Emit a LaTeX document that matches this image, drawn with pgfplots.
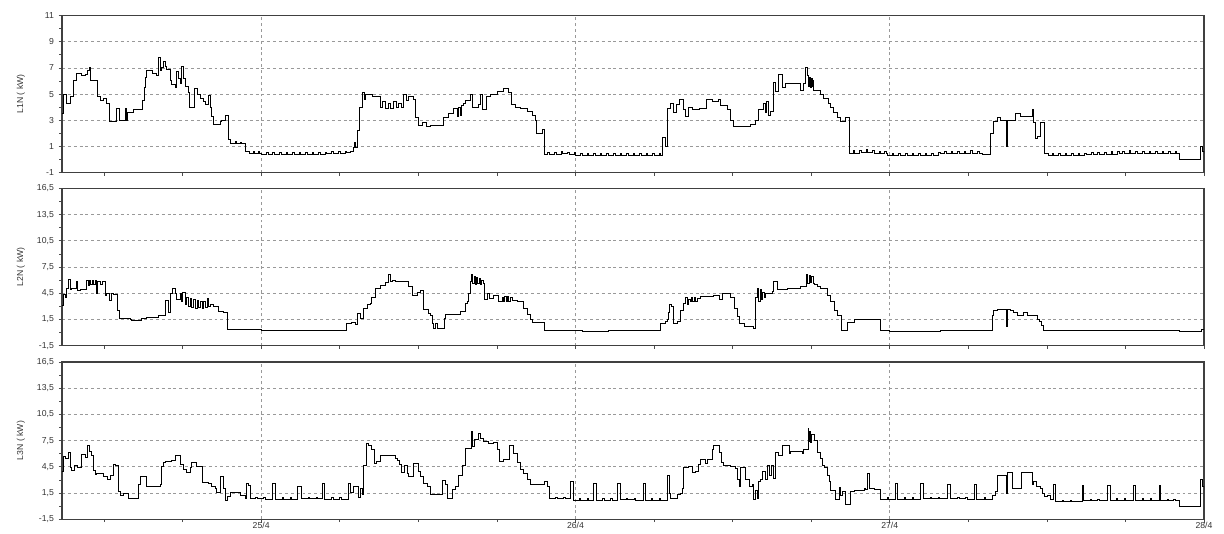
\documentclass[border=0pt]{standalone}
\usepackage{fontspec}
\setmainfont{Liberation Sans}
\usepackage{pgfplots}
\pgfplotsset{compat=1.18}

% time axis: hours from 25/4 00:00
\pgfplotsset{
  panel/.style={
    scale only axis, width=856.5pt, height=118pt,
    xmin=-15.21, xmax=72,
    xtick={0,24,48,72},
    minor xtick={-12,-6,6,12,18,30,36,42,54,60,66},
    xticklabels={},
    tick align=outside, tick pos=left,
    major tick length=2.6pt, minor tick length=2.2pt,
    xmajorgrids, ymajorgrids,
    major grid style={dash pattern=on 2.2pt off 2.2pt, black!40, line width=0.5pt},
    axis line style={black!75, line width=0.9pt},
    every tick/.style={black!70, line width=0.5pt},
    minor y tick num=1,
    /pgf/number format/assume math mode=true,
    tick label style={font=\fontsize{6.5}{7}\selectfont, text=black!80},
    xticklabel style={yshift=3.8pt},
    label style={font=\fontsize{6.5}{7}\selectfont, text=black!80},
    ylabel style={at={(axis description cs:-0.036,0.5)}, anchor=center},
  },
  kwpanel/.style={
    ymin=-1.5, ymax=16.5, ytick={-1.5,1.5,4.5,7.5,10.5,13.5,16.5},
    yticklabel={\pgfmathprintnumber[fixed,fixed zerofill,precision=1,use comma,assume math mode=true]{\tick}},
  },
  trace/.style={const plot, no marks, black, line width=0.7pt},
}

\begin{document}
\begin{tikzpicture}
\path[use as bounding box] (0,0) rectangle (918pt,399.75pt);

% ---------------- L1N ----------------
\begin{axis}[panel, at={(46.5pt,270.2pt)}, anchor=south west,
  ymin=-1, ymax=11, ytick={-1,1,3,5,7,9,11},
  ylabel={L1N ( kW)}]
\addplot[trace] coordinates {
(-15.23,3.5) (-15.11,5.0) (-14.85,4.3) (-14.54,4.8) (-14.35,6.0) (-14.14,6.6) (-13.7,6.4) (-13.45,6.5) (-13.28,6.8) (-13.1,7.0)
(-13.02,6.0) (-12.51,4.8) (-12.31,4.5) (-12.05,4.7) (-11.79,4.3) (-11.59,2.9) (-11.03,3.9) (-10.83,3.0) (-10.39,3.9) (-10.26,3.0)
(-10.22,3.6) (-9.76,3.8) (-9.04,4.5) (-8.94,5.5) (-8.84,6.3) (-8.74,6.8) (-8.3,6.6) (-7.97,6.4) (-7.82,7.8) (-7.72,6.8)
(-7.6,7.0) (-7.47,7.5) (-7.3,7.1) (-7.21,6.9) (-6.95,6.0) (-6.83,5.7) (-6.57,5.5) (-6.50,6.7) (-6.32,6.2) (-6.2,5.8)
(-6.11,7.1) (-5.94,6.2) (-5.81,5.6) (-5.56,5.1) (-5.48,4.0) (-5.10,5.4) (-4.84,5.0) (-4.66,4.7) (-4.41,4.4) (-4.28,4.2)
(-4.03,4.9) (-3.90,4.0) (-3.77,3.3) (-3.65,2.7) (-3.13,2.9) (-3.00,3.0) (-2.70,3.4) (-2.50,1.5) (-2.37,1.2) (-2.0,1.35)
(-1.9,1.2) (-1.6,1.3) (-1.5,1.2) (-1.22,0.6) (-0.9,0.5) (-0.6,0.62) (-0.5,0.5) (-0.2,0.6) (-0.1,0.5)
(0.05,0.4) (0.4,0.55) (0.52,0.4) (0.9,0.55) (1.02,0.4) (1.4,0.55) (1.52,0.4) (1.9,0.55) (2.02,0.4) (2.4,0.55) (2.52,0.4)
(2.9,0.55) (3.02,0.4) (3.4,0.55) (3.52,0.4) (3.9,0.55) (4.02,0.4) (4.4,0.55) (4.52,0.4) (4.9,0.55) (5.02,0.45) (5.4,0.6)
(5.52,0.45) (5.9,0.6) (6.02,0.5) (6.4,0.65) (6.52,0.55)
(6.8,0.6) (7.03,0.9) (7.1,1.3) (7.2,0.9) (7.34,2.2) (7.49,4.0) (7.7,5.1) (7.87,4.6) (8.0,5.0) (8.5,4.8)
(9.1,4.0) (9.3,4.4) (9.5,3.9) (9.7,4.3) (9.9,3.9) (10.1,4.4) (10.3,4.0) (10.5,4.3) (10.7,4.0) (10.85,5.0)
(11.08,4.5) (11.23,4.8) (11.62,4.6) (11.77,3.2) (12.0,2.6) (12.3,2.8) (12.6,2.5) (12.9,2.6) (13.91,3.2) (14.29,3.5)
(14.67,3.9) (14.98,3.3) (15.1,4.0) (15.2,3.4) (15.3,4.1) (15.44,4.3) (15.6,4.5) (15.98,5.0) (16.13,4.0) (16.59,4.2)
(16.75,5.0) (16.9,3.8) (17.2,4.8) (17.5,5.0) (18.04,5.2) (18.5,5.4) (18.88,5.1) (19.11,4.2) (19.42,4.0) (19.8,3.9)
(20.33,3.7) (20.71,3.4) (20.94,3.0) (21.02,2.0) (21.48,2.3)
(21.63,0.4) (21.9,0.55) (22.02,0.4) (22.4,0.55) (22.52,0.4) (22.9,0.6) (23.02,0.45) (23.4,0.55) (23.52,0.4) (23.9,0.55)
(24.02,0.3) (24.4,0.45) (24.52,0.3) (24.9,0.45) (25.02,0.3) (25.4,0.45) (25.52,0.3) (25.9,0.45) (26.02,0.3) (26.4,0.45)
(26.52,0.3) (26.9,0.45) (27.02,0.3) (27.4,0.45) (27.52,0.3) (27.9,0.5) (28.02,0.35) (28.4,0.5) (28.52,0.35) (28.9,0.5)
(29.02,0.35) (29.4,0.5) (29.52,0.35) (29.9,0.5) (30.02,0.35) (30.4,0.5) (30.52,0.35)
(30.63,1.7) (30.88,1.0) (31.03,3.9) (31.26,4.3) (31.49,3.6) (31.72,4.2) (31.95,4.6) (32.25,3.8) (32.41,3.3) (32.64,4.0)
(32.94,3.8) (33.5,3.9) (34.02,4.6) (34.5,4.4) (34.93,4.6) (35.08,4.1) (35.62,3.8) (35.85,3.0) (36.08,2.5) (37.38,2.7)
(37.76,3.0) (37.99,3.8) (38.37,4.3) (38.5,3.6) (38.6,4.4) (38.75,3.4) (38.91,3.7) (39.13,5.9) (39.28,5.2) (39.51,6.5)
(39.82,5.5) (40.05,5.8) (41.2,5.3) (41.43,5.8) (41.58,7.0) (41.74,6.4) (41.8,5.6) (41.87,6.3) (41.94,5.5) (42.0,6.2)
(42.07,5.6) (42.14,6.0) (42.2,5.3) (42.73,5.0) (42.96,4.7) (43.34,4.3) (43.5,4.0) (43.72,3.6) (44.03,3.2) (44.26,2.9)
(44.64,3.2)
(44.95,0.5) (45.2,0.7) (45.32,0.5) (45.7,0.7) (45.82,0.55) (46.2,0.75) (46.32,0.55) (46.7,0.7) (46.82,0.5) (47.2,0.65)
(47.32,0.5) (47.6,0.65) (47.72,0.45) (47.85,0.3) (48.2,0.45) (48.32,0.3) (48.7,0.45) (48.82,0.3) (49.2,0.45) (49.32,0.3)
(49.7,0.45) (49.82,0.3) (50.2,0.45) (50.32,0.3) (50.7,0.5) (50.82,0.35) (51.2,0.5) (51.32,0.35) (51.7,0.55) (51.9,0.45)
(52.2,0.65) (52.32,0.45) (52.7,0.65) (52.82,0.45) (53.2,0.65) (53.32,0.45) (53.7,0.65) (53.82,0.45) (54.2,0.7) (54.32,0.45)
(54.7,0.65) (54.82,0.45) (55.1,0.4)
(55.72,2.0) (55.95,2.9) (56.26,3.2) (56.48,3.0) (56.94,1.0) (57.02,3.0) (57.63,3.5) (58.0,3.3) (58.93,3.8) (59.0,2.8)
(59.16,1.6) (59.31,1.8) (59.54,2.8)
(59.85,0.5) (60.1,0.35) (60.4,0.5) (60.52,0.35) (60.9,0.5) (61.02,0.35) (61.4,0.5) (61.52,0.35) (61.9,0.5) (62.02,0.35)
(62.4,0.5) (62.52,0.35) (62.9,0.5) (63.02,0.4) (63.4,0.55) (63.52,0.4) (63.9,0.55) (64.02,0.4) (64.4,0.55) (64.52,0.4)
(64.9,0.6) (65.02,0.4) (65.4,0.6) (65.52,0.45) (65.8,0.65) (65.92,0.5) (66.3,0.7) (66.42,0.5) (66.8,0.65) (66.92,0.5)
(67.3,0.6) (67.42,0.45) (67.8,0.6) (67.92,0.45) (68.3,0.6) (68.42,0.45) (68.8,0.6) (68.92,0.45) (69.3,0.6) (69.42,0.5)
(69.8,0.65) (69.92,0.5) (70.09,0.0) (71.7,1.0) (71.85,0.6) (72,0.4)
};
\end{axis}

% ---------------- L2N ----------------
\begin{axis}[panel, kwpanel, at={(46.5pt,140.5pt)}, anchor=south west,
  ylabel={L2N ( kW)}]
\addplot[trace] coordinates {
(-15.23,3.1) (-15.11,4.4) (-14.98,4.0) (-14.85,5.0) (-14.72,6.1) (-14.6,4.9) (-14.47,5.0) (-14.09,5.9) (-14.0,4.8) (-13.83,4.9)
(-13.37,6.0) (-13.2,5.4) (-13.1,6.0) (-13.0,5.5) (-12.9,6.0) (-12.8,5.5) (-12.69,6.0) (-12.61,4.5) (-12.51,5.8) (-12.31,5.5)
(-12.13,5.9) (-11.92,4.3) (-11.79,4.5) (-11.6,3.7) (-11.46,4.5) (-11.29,4.4) (-10.99,2.5) (-10.83,1.6) (-10.01,1.5) (-9.88,1.4)
(-9.12,1.6) (-8.74,1.7) (-7.85,1.9) (-7.34,3.7) (-7.09,2.3) (-6.9,4.5) (-6.75,5.05) (-6.57,4.5) (-6.44,3.8) (-6.19,4.5)
(-6.06,3.5) (-5.98,4.6) (-5.81,3.2) (-5.68,4.0) (-5.55,3.0) (-5.42,3.9) (-5.29,2.9) (-5.16,3.8) (-5.03,2.8) (-4.9,3.7)
(-4.77,2.9) (-4.64,3.6) (-4.51,2.8) (-4.38,3.6) (-4.25,2.9) (-4.12,3.9) (-3.99,3.0) (-3.86,3.2) (-3.65,3.0) (-3.26,2.4)
(-2.9,2.3) (-2.55,0.3) (0.05,0.2) (3.9,0.25) (6.55,1.0) (6.93,1.2) (7.18,0.9) (7.34,2.2) (7.57,1.6) (7.8,2.8)
(8.08,3.2) (8.33,3.3) (8.46,4.0) (8.71,5.0) (9.1,5.4) (9.48,5.7) (9.73,6.6) (9.86,5.8) (9.99,6.0) (10.24,5.8)
(11.26,5.3) (11.54,4.3) (11.9,4.6) (12.15,4.8) (12.41,2.6) (12.79,2.2) (12.92,2.0) (13.05,1.0) (13.17,0.5) (13.3,1.0)
(13.47,0.5) (13.99,1.6) (14.06,2.05) (15.21,2.4) (15.59,3.3) (15.72,3.6) (15.85,4.5) (15.98,5.9) (16.05,6.6) (16.15,5.6)
(16.25,6.4) (16.35,5.5) (16.45,6.3) (16.55,5.6) (16.65,6.2) (16.75,5.5) (16.85,6.0) (16.95,5.6) (17.04,3.8) (17.25,4.5)
(17.45,3.9) (17.76,4.3) (18.14,3.6) (18.4,4.0) (18.5,3.5) (18.6,4.1) (18.7,3.6) (18.8,4.1) (18.9,3.6) (19.0,4.0)
(19.2,3.7) (19.55,3.5) (20.05,2.8) (20.31,2.1) (20.56,1.5) (20.69,1.2) (21.63,0.2) (24.5,0.15) (26.5,0.2) (30.5,1.0)
(30.88,1.3) (31.03,1.5) (31.1,2.3) (31.18,3.2) (31.33,3.0) (31.49,1.05) (31.77,1.3) (32.02,2.5) (32.28,3.3) (32.41,4.0)
(32.58,3.2) (32.66,3.8) (32.75,3.5) (32.85,4.0) (32.95,3.5) (33.05,4.0) (33.15,3.6) (33.3,3.9) (33.56,4.1) (34.57,4.2)
(35.03,3.8) (35.24,4.5) (35.85,4.0) (36.11,2.8) (36.37,1.8) (36.49,1.05) (36.88,0.7) (37.59,0.5) (37.76,4.0) (37.89,5.1)
(38.0,3.6) (38.1,4.9) (38.2,3.8) (38.3,4.6) (38.4,4.0) (38.5,4.5) (39.04,4.7) (39.11,5.8) (39.42,4.9) (40.18,5.0)
(41.2,5.3) (41.66,6.7) (41.75,5.6) (41.85,6.5) (41.95,5.7) (42.05,6.4) (42.15,5.6) (42.22,5.5) (42.48,5.3) (42.73,5.0)
(43.24,4.2) (43.5,3.5) (43.75,2.5) (44.01,2.0) (44.31,0.2) (44.77,1.1) (45.28,1.5) (46.5,1.55) (47.32,0.2) (48.0,0.15)
(51.9,0.25) (54.96,0.2) (55.87,2.0) (55.95,2.55) (56.26,2.6) (56.94,0.75) (57.02,2.6) (57.25,2.5) (57.48,2.3) (57.78,1.9)
(58.24,2.3) (58.55,1.9) (59.31,1.5) (59.47,1.3) (59.62,0.8) (59.77,0.2) (63.36,0.25) (64.66,0.2) (66.19,0.25) (70.09,0.1)
(71.77,0.4) (72,0.4)
};
\end{axis}

% ---------------- L3N ----------------
\begin{axis}[panel, kwpanel, at={(46.5pt,10.3pt)}, anchor=south west,
  xticklabels={25/4,26/4,27/4,28/4},
  ylabel={L3N ( kW)}]
\addplot[trace] coordinates {
(-15.23,4.0) (-15.06,5.7) (-14.98,5.4) (-14.73,6.2) (-14.6,4.4) (-14.47,4.1) (-14.22,4.65) (-14.04,4.4) (-13.7,5.9) (-13.45,5.6)
(-13.28,6.9) (-13.13,6.3) (-12.94,5.8) (-12.81,4.1) (-12.69,3.6) (-12.56,3.7) (-12.05,3.4) (-11.75,3.1) (-11.54,3.5) (-11.29,4.8)
(-11.1,4.6) (-10.91,1.7) (-10.72,1.27) (-10.52,1.4) (-10.14,0.9) (-9.38,2.5) (-9.2,3.4) (-8.74,2.2) (-7.72,2.5) (-7.59,4.5)
(-7.47,5.0) (-7.34,5.15) (-6.83,5.2) (-6.57,5.8) (-6.19,4.8) (-5.94,4.2) (-5.68,3.9) (-5.43,4.4) (-5.3,5.0) (-4.91,4.5)
(-4.46,2.7) (-4.0,2.6) (-3.77,2.3) (-3.52,2.0) (-3.39,1.6) (-3.13,3.4) (-2.88,2.0) (-2.7,0.6) (-2.55,1.1) (-2.37,1.6)
(-1.6,1.2) (-1.17,0.9) (-1.15,2.6) (-1.0,2.4) (-0.85,0.9) (-0.4,1.0) (-0.3,0.85) (0.2,0.95) (0.3,0.8) (0.84,2.6)
(1.07,0.8) (1.6,0.95) (1.7,0.8) (2.2,0.95) (2.3,0.8) (2.75,2.3) (3.06,0.9) (3.6,1.0) (3.7,0.85) (4.2,1.0)
(4.3,0.85) (4.66,2.65) (4.87,0.8) (5.4,0.95) (5.5,0.8) (6.0,0.95) (6.1,0.8) (6.65,2.6) (6.8,1.6) (7.01,2.3)
(7.44,1.0) (7.57,2.0) (7.7,1.3) (7.82,4.7) (8.03,7.2) (8.2,7.0) (8.46,6.5) (8.64,4.9) (8.84,5.1) (9.1,5.8)
(10.24,5.5) (10.37,5.2) (10.57,4.8) (10.68,3.8) (10.93,4.6) (11.14,3.7) (11.26,3.4) (11.64,4.9) (11.98,4.0) (12.15,3.4)
(12.41,2.65) (12.67,2.3) (12.92,1.3) (13.81,2.95) (14.06,2.5) (14.19,0.9) (14.58,1.9) (14.83,2.2) (15.08,3.5) (15.34,4.7)
(15.59,6.65) (15.8,6.6) (16.03,8.6) (16.15,6.8) (16.3,7.6) (16.61,8.3) (16.74,7.8) (16.99,7.4) (17.38,7.2) (17.76,7.3)
(18.01,6.5) (18.21,5.1) (18.52,5.3) (18.96,7.0) (19.28,6.0) (19.55,5.0) (19.8,4.2) (20.05,3.7) (20.31,3.0) (20.56,2.45)
(21.63,2.8) (21.84,2.2) (22.04,0.85) (22.5,1.0) (22.6,0.85) (23.1,1.0) (23.2,0.85) (23.62,2.8) (23.85,0.7) (24.3,0.85)
(24.4,0.7) (24.9,0.85) (25.0,0.7) (25.38,2.6) (25.61,0.7) (26.1,0.85) (26.2,0.7) (26.7,0.85) (26.8,0.7) (27.21,2.65)
(27.44,0.75) (27.9,0.9) (28.0,0.75) (28.5,0.9) (28.6,0.7) (29.2,2.6) (29.35,0.7) (29.8,0.85) (29.9,0.7) (30.4,0.85)
(30.5,0.7) (31.03,3.5) (31.18,1.5) (31.26,0.9) (31.77,1.3) (32.02,1.5) (32.15,2.0) (32.28,4.4) (32.66,4.55) (32.92,3.8)
(33.17,4.0) (33.43,4.8) (33.56,5.3) (33.94,4.9) (34.07,5.3) (34.45,6.5) (34.57,6.95) (34.96,6.2) (35.14,5.0) (35.34,4.7)
(35.85,4.5) (36.23,4.3) (36.36,3.0) (36.49,2.3) (36.62,4.4) (37.0,3.0) (37.26,2.2) (37.51,2.5) (37.59,0.8) (37.76,1.8)
(37.89,0.9) (38.01,2.8) (38.14,3.0) (38.27,4.0) (38.52,3.0) (38.66,4.7) (38.78,3.5) (38.96,4.6) (39.11,3.2) (39.29,6.1)
(39.54,5.8) (39.8,7.0) (40.31,6.0) (40.43,6.3) (41.33,6.0) (41.45,6.5) (41.76,8.9) (41.83,7.4) (41.9,8.6) (41.97,7.3)
(42.04,8.2) (42.22,7.5) (42.48,6.2) (42.68,5.5) (42.86,4.7) (42.99,4.4) (43.24,3.5) (43.37,2.8) (43.5,1.8) (43.88,0.74)
(44.14,2.1) (44.26,1.2) (44.39,1.7) (44.64,0.17) (45.03,1.7) (45.28,1.8) (46.05,2.0) (46.17,1.9) (46.3,3.7) (46.43,2.0)
(46.81,1.9) (47.32,0.8) (47.8,0.95) (47.9,0.8) (48.46,2.65) (48.62,0.8) (49.1,0.95) (49.2,0.8) (49.7,0.95) (49.8,0.8)
(50.37,2.6) (50.6,0.9) (51.1,1.0) (51.2,0.85) (51.7,1.0) (51.8,0.85) (52.43,2.45) (52.66,0.9) (53.2,1.0) (53.3,0.85)
(53.8,1.0) (53.9,0.8) (54.5,2.5) (54.65,0.8) (55.2,0.95) (55.3,0.8) (55.85,1.2) (56.1,1.7) (56.23,3.55) (56.94,1.5)
(57.02,3.8) (57.38,2.07) (58.09,3.8) (58.9,2.45) (59.0,2.8) (59.24,2.2) (59.54,2.0) (59.67,1.5) (59.85,1.1) (60.05,1.2)
(60.31,0.75) (60.54,2.5) (60.69,0.55) (61.2,0.7) (61.3,0.55) (61.8,0.7) (61.9,0.55) (62.68,2.4) (62.83,0.6) (63.3,0.75)
(63.4,0.6) (63.9,0.75) (64.0,0.6) (64.66,2.4) (64.82,0.7) (65.3,0.85) (65.4,0.7) (65.9,0.85) (66.0,0.7) (66.65,2.4)
(66.8,0.7) (67.3,0.85) (67.4,0.7) (67.9,0.85) (68.0,0.7) (68.56,2.4) (68.71,0.6) (69.2,0.75) (69.3,0.6) (69.7,0.75)
(69.8,0.6) (70.09,0.0) (71.7,3.0) (71.85,2.2) (72,1.9)
};
\end{axis}
\end{tikzpicture}
\end{document}
